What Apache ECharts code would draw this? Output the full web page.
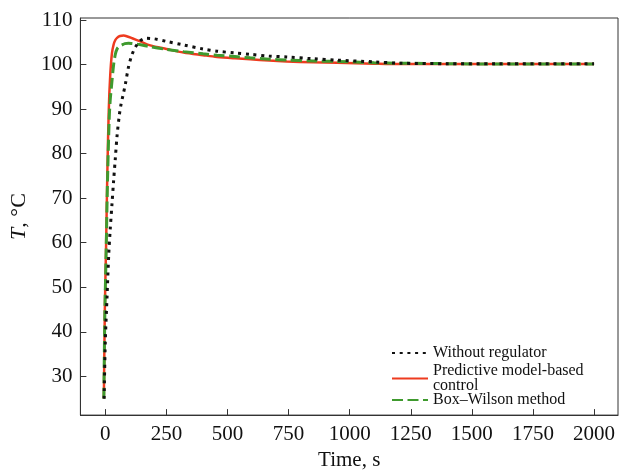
<!DOCTYPE html>
<html>
<head>
<meta charset="utf-8">
<script src="https://cdn.jsdelivr.net/npm/echarts@6/dist/echarts.min.js"></script>
<style>html,body{margin:0;padding:0;background:#fff}#c{width:623px;height:476px}</style>
</head>
<body>
<div id="c"></div>
<script>
// Data
var seriesNames = ['Without regulator', 'Predictive model-based control', 'Box\u2013Wilson method'];

var timeNoReg = [-5, 0, 7, 14, 20, 27, 34, 41, 48, 57, 64, 72, 82, 95, 109, 123, 140, 164, 198, 250, 320, 400, 457, 530, 593, 670, 743, 850, 948, 1100, 1207, 1400, 1600, 1800, 2000];
var tempNoReg = [25, 38, 47.8, 57.4, 63, 68.5, 74, 79, 84, 88.5, 91, 93, 95.6, 99.5, 102.2, 103.9, 105.2, 105.9, 105.8, 105.2, 104.4, 103.5, 103.0, 102.6, 102.3, 101.9, 101.7, 101.3, 101.0, 100.6, 100.3, 100.2, 100.2, 100.2, 100.2];

var timePred = [-6, -2, 3, 8, 14, 20, 27, 34, 41, 48, 60, 75, 90, 110, 143, 184, 250, 320, 400, 457, 530, 593, 670, 743, 850, 948, 1100, 1207, 1400, 1600, 1800, 2000];
var tempPred = [25, 45, 59, 75, 89.6, 97.5, 102.5, 104.5, 105.5, 106.0, 106.4, 106.5, 106.3, 105.9, 105.2, 104.3, 103.5, 102.7, 102.1, 101.7, 101.4, 101.2, 100.9, 100.7, 100.5, 100.4, 100.2, 100.1, 100.1, 100.1, 100.1, 100.1];

var timeBW = [-6, -2, 3, 9, 16, 20, 25, 34, 41, 48, 58, 68, 80, 95, 110, 140, 184, 250, 320, 400, 457, 530, 593, 670, 743, 850, 948, 1100, 1207, 1400, 1600, 1800, 2000];
var tempBW = [25, 44, 57, 74, 88, 92, 95, 100, 102.3, 103.5, 104.1, 104.4, 104.7, 104.8, 104.7, 104.5, 104.0, 103.4, 102.9, 102.4, 102.1, 101.8, 101.5, 101.2, 101.0, 100.8, 100.7, 100.4, 100.3, 100.2, 100.1, 100.1, 100.1];

var xTicks = [0, 250, 500, 750, 1000, 1250, 1500, 1750, 2000];
var yTicks = [30, 40, 50, 60, 70, 80, 90, 100, 110];

function pairs(xs, ys) { return xs.map(function (x, i) { return [x, ys[i]]; }); }

var FONT = 'Liberation Serif';
var chart = echarts.init(document.getElementById('c'), null, { renderer: 'canvas' });
var legendText = { fontFamily: FONT, fontSize: 16, color: '#111', lineHeight: 15 };
function legendAt(name, top, label) {
  return {
    data: [name], orient: 'vertical', left: 386, top: top, itemWidth: 36, itemHeight: 14, itemGap: 0,
    itemStyle: { opacity: 0 }, textStyle: legendText,
    formatter: function () { return label; }
  };
}
chart.setOption({
  animation: false,
  backgroundColor: '#fff',
  grid: { left: 80, top: 18, right: 5, bottom: 57, show: true, borderColor: '#333', borderWidth: 1, backgroundColor: 'transparent' },
  legend: [
    legendAt(seriesNames[0], 340, 'Without regulator'),
    legendAt(seriesNames[1], 358, 'Predictive model-based\ncontrol'),
    legendAt(seriesNames[2], 387, 'Box\u2013Wilson method')
  ],
  xAxis: {
    type: 'value', min: -102, max: 2098,
    name: 'Time, s', nameLocation: 'middle', nameGap: 33,
    nameTextStyle: { fontFamily: FONT, fontSize: 21, color: '#111' },
    axisLine: { onZero: false, lineStyle: { color: '#333', width: 1 } },
    axisTick: { inside: true, length: 6, lineStyle: { color: '#333' }, customValues: xTicks },
    axisLabel: { fontFamily: FONT, fontSize: 21, color: '#111', margin: 9, customValues: xTicks, formatter: function (v) { return String(v); } },
    splitLine: { show: false }
  },
  yAxis: {
    type: 'value', min: 21.3, max: 110.45,
    name: '{i|T}, \u00B0C', nameLocation: 'middle', nameGap: 47,
    nameTextStyle: { fontFamily: FONT, fontSize: 22, color: '#111', rich: { i: { fontFamily: FONT, fontSize: 22, fontStyle: 'italic', color: '#111' } } },
    axisLine: { onZero: false, lineStyle: { color: '#333', width: 1 } },
    axisTick: { inside: true, length: 6, lineStyle: { color: '#333' }, customValues: yTicks },
    axisLabel: { fontFamily: FONT, fontSize: 21, color: '#111', margin: 8, customValues: yTicks, formatter: function (v) { return String(v); } },
    splitLine: { show: false }
  },
  series: [
    { name: seriesNames[1], type: 'line', data: pairs(timePred, tempPred), symbol: 'none', smooth: 0.3,
      lineStyle: { color: '#ee3b1f', width: 2.5 }, itemStyle: { color: '#ee3b1f' }, z: 2 },
    { name: seriesNames[2], type: 'line', data: pairs(timeBW, tempBW), symbol: 'none', smooth: 0.3,
      lineStyle: { color: '#3f9a2e', width: 3, type: [11, 4.5] }, itemStyle: { color: '#3f9a2e' }, z: 3 },
    { name: seriesNames[0], type: 'line', data: pairs(timeNoReg, tempNoReg), symbol: 'none', smooth: 0.3,
      lineStyle: { color: '#111', width: 3, type: [3, 4.7] }, itemStyle: { color: '#111' }, z: 4 }
  ]
});
</script>
</body>
</html>
